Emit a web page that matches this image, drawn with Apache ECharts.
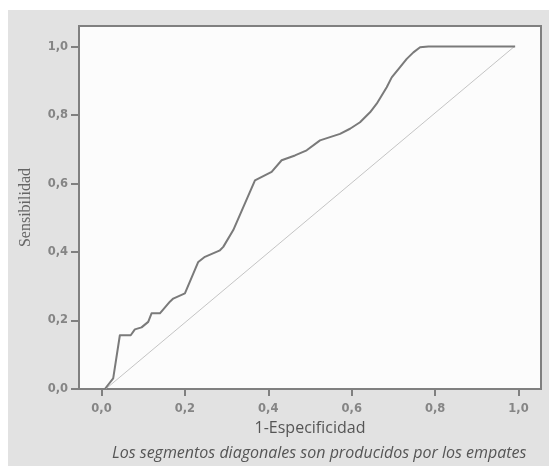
<!DOCTYPE html>
<html>
<head>
<meta charset="utf-8">
<script src="https://cdn.jsdelivr.net/npm/echarts@6/dist/echarts.min.js"></script>
<style>
  html, body { margin: 0; padding: 0; background: #fff; }
  #roc { width: 552px; height: 468px; }
</style>
</head>
<body>
<div id="roc"></div>
<script>
// curva ROC
var fpr = [0.008, 0.028, 0.044, 0.070, 0.080, 0.096, 0.112, 0.120, 0.140, 0.164, 0.172, 0.200,
           0.232, 0.248, 0.284, 0.292, 0.316, 0.368, 0.408, 0.432, 0.464, 0.492, 0.524, 0.572,
           0.596, 0.620, 0.644, 0.660, 0.672, 0.684, 0.696, 0.716, 0.732, 0.748, 0.764, 0.784, 0.992];
var tpr = [0.000, 0.031, 0.157, 0.157, 0.174, 0.180, 0.196, 0.221, 0.221, 0.255, 0.264, 0.279,
           0.371, 0.386, 0.405, 0.415, 0.464, 0.609, 0.634, 0.668, 0.682, 0.697, 0.726, 0.745,
           0.760, 0.779, 0.808, 0.833, 0.857, 0.881, 0.910, 0.940, 0.964, 0.983, 0.998, 1.000, 1.000];
// linea de referencia
var refX = [0.01, 0.99];
var refY = [0.0, 1.0];
var ticks = [0, 0.2, 0.4, 0.6, 0.8, 1.0];

(function(){
    var chart = echarts.init(document.getElementById('roc'));

    var curve = fpr.map(function(x, i){ return [x, tpr[i]]; });
    var diag = refX.map(function(x, i){ return [x, refY[i]]; });

    var fmt = function(v){ return v.toFixed(1).replace('.', ','); };
    var labelStyle = {
        color: '#858585',
        fontFamily: 'DejaVu Sans',
        fontWeight: 'bold',
        fontSize: 11.5
    };

    var option = {
        backgroundColor: '#fff',
        graphic: [{
            type: 'rect',
            z: -10,
            shape: { x: 8, y: 10, width: 541, height: 456 },
            style: { fill: '#e2e2e2' }
        }],
        title: [{
            text: 'Los segmentos diagonales son producidos por los empates',
            left: 107,
            top: 440,
            textStyle: {
                fontFamily: 'Open Sans',
                fontStyle: 'italic',
                fontWeight: 'normal',
                fontSize: 16,
                color: '#555'
            }
        }],
        grid: {
            left: 79,
            right: 11,
            top: 26,
            bottom: 79,
            show: true,
            backgroundColor: '#fcfcfc',
            borderColor: '#808080',
            borderWidth: 2
        },
        xAxis: {
            type: 'value',
            min: -0.054,
            max: 1.054,
            name: '1-Especificidad',
            nameLocation: 'middle',
            nameGap: 31,
            nameTextStyle: { fontFamily: 'Open Sans', fontSize: 16, color: '#555' },
            axisLine: { onZero: false, lineStyle: { color: '#808080', width: 2 } },
            axisTick: { show: true, inside: false, length: 7, customValues: ticks, lineStyle: { color: '#808080', width: 2 } },
            axisLabel: Object.assign({ customValues: ticks, formatter: fmt, margin: 14 }, labelStyle),
            splitLine: { show: false }
        },
        yAxis: {
            type: 'value',
            min: 0,
            max: 1.06,
            name: 'Sensibilidad',
            nameLocation: 'middle',
            nameGap: 45,
            nameTextStyle: { fontFamily: 'Liberation Serif', fontSize: 16, color: '#666' },
            axisLine: { show: true, onZero: false, lineStyle: { color: '#808080', width: 2 } },
            axisTick: { show: true, inside: false, length: 8, customValues: ticks, lineStyle: { color: '#808080', width: 2 } },
            axisLabel: Object.assign({ customValues: ticks, formatter: fmt, margin: 11 }, labelStyle),
            splitLine: { show: false }
        },
        series: [
            {
                name: 'ROC',
                type: 'line',
                data: curve,
                symbol: 'none',
                lineStyle: { color: '#7a7a7a', width: 2, join: 'round' },
                z: 3
            },
            {
                name: 'referencia',
                type: 'line',
                data: diag,
                symbol: 'none',
                lineStyle: { color: '#c4c4c4', width: 1 },
                z: 2
            }
        ],
        animation: false
    };

    chart.setOption(option);
})();
</script>
</body>
</html>
